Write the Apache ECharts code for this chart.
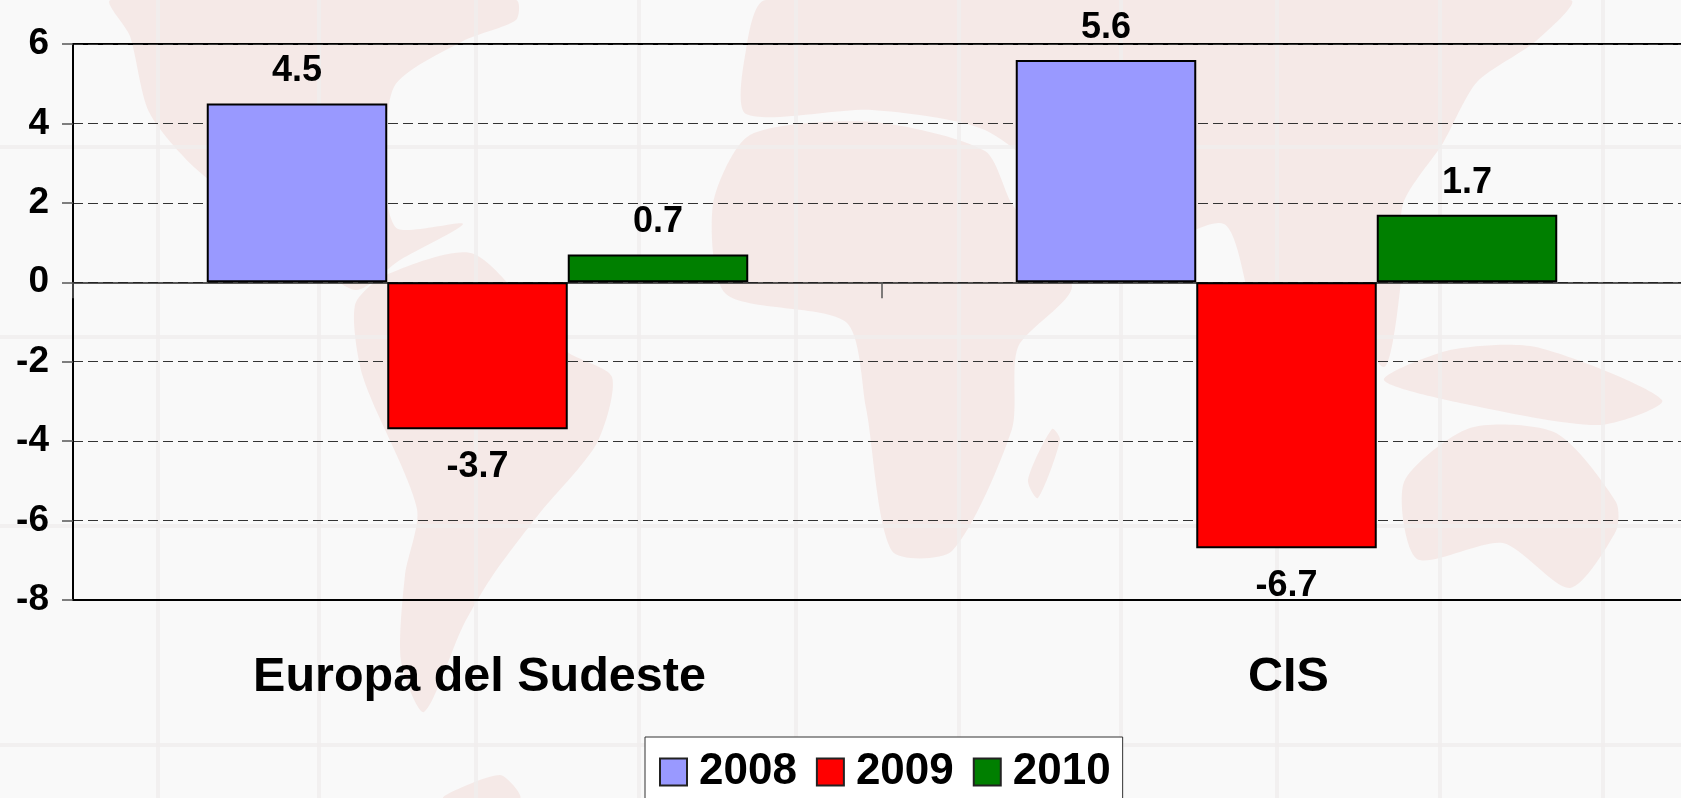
<!DOCTYPE html>
<html>
<head>
<meta charset="utf-8">
<style>
html, body { margin: 0; padding: 0; background: #f9f9f9; overflow: hidden; }
/* plot area runs past the right edge of the window, so the chart is wider than the page */
#chart { width: 1700px; height: 798px; }
</style>
<script src="https://cdn.jsdelivr.net/npm/echarts@6/dist/echarts.min.js"></script>
</head>
<body>
<div id="chart"></div>
<script>
var categories = ['Europa del Sudeste', 'CIS'];
var years = ['2008', '2009', '2010'];
var values2008 = [4.5, 5.6];
var values2009 = [-3.7, -6.7];
var values2010 = [0.7, 1.7];
var colors = ['#9999ff', '#ff0000', '#007f00'];

// faint world map behind the chart, only decoration
var landAreas = [
    [[111, 0], [516, 0], [516, 20], [463, 41], [394, 87], [386, 193], [398, 229], [463, 224], [400, 260], [355, 290], [294, 244], [195, 168], [149, 112], [130, 36]],
    [[386, 275], [474, 254], [566, 351], [612, 377], [597, 443], [539, 514], [493, 575], [463, 626], [424, 712], [401, 661], [405, 575], [417, 509], [363, 377], [355, 305]],
    [[750, 135], [872, 122], [985, 151], [1012, 204], [1072, 286], [1018, 347], [1012, 429], [952, 551], [892, 551], [866, 408], [846, 322], [726, 294], [713, 204]],
    [[766, 0], [1570, 0], [1536, 41], [1477, 82], [1443, 143], [1403, 204], [1400, 290], [1384, 367], [1340, 300], [1297, 282], [1260, 330], [1224, 224], [1120, 260], [1072, 200], [985, 130], [872, 110], [746, 114], [746, 50]],
    [[1384, 380], [1450, 350], [1536, 347], [1662, 400], [1600, 425], [1470, 405]],
    [[1404, 482], [1470, 428], [1556, 433], [1616, 502], [1616, 531], [1570, 588], [1503, 543], [1417, 559]],
    [[1052, 429], [1060, 440], [1038, 498], [1028, 480]],
    [[443, 798], [500, 775], [520, 798]]
];
var mapLinesX = [158, 319, 476, 639, 796, 959, 1121, 1277, 1440, 1603];
var mapLinesY = [147, 337, 526, 745];

var background = [];
landAreas.forEach(function (points) {
    background.push({
        type: 'polygon',
        z: -10,
        silent: true,
        shape: { points: points, smooth: 0.25 },
        style: { fill: '#f5e9e7' }
    });
});
mapLinesX.forEach(function (x) {
    background.push({
        type: 'line', z: -9, silent: true,
        shape: { x1: x, y1: 0, x2: x, y2: 798 },
        style: { stroke: '#f0eded', lineWidth: 4, opacity: 0.8 }
    });
});
mapLinesY.forEach(function (y) {
    background.push({
        type: 'line', z: -9, silent: true,
        shape: { x1: 0, y1: y, x2: 1700, y2: y },
        style: { stroke: '#f0eded', lineWidth: 4, opacity: 0.8 }
    });
});

function makeSeries(name, data, color) {
    return {
        name: name,
        type: 'bar',
        xAxisIndex: 0,
        data: data,
        barWidth: 180.5,
        barGap: 0,
        itemStyle: {
            color: color,
            borderColor: '#000',
            borderWidth: 2
        },
        label: {
            show: true,
            position: 'outside',
            distance: 17,
            offset: [0, 3],
            color: '#000',
            fontFamily: 'Liberation Sans',
            fontWeight: 'bold',
            fontSize: 36,
            formatter: function (p) {
                return p.value.toFixed(1);
            }
        }
    };
}

var myChart = echarts.init(document.getElementById('chart'), null, { renderer: 'canvas' });

var option = {
    animation: false,
    backgroundColor: 'transparent',
    graphic: background,
    grid: {
        show: true,
        left: 73,
        top: 44,
        width: 1618,
        height: 556,
        borderColor: '#000',
        borderWidth: 2,
        backgroundColor: 'transparent',
        containLabel: false
    },
    legend: {
        left: 645,
        top: 737,
        padding: [13, 12, 40, 14],
        itemWidth: 27,
        itemHeight: 27,
        itemGap: 19,
        backgroundColor: '#fff',
        borderColor: '#333',
        borderWidth: 1,
        icon: 'rect',
        data: years,
        textStyle: {
            color: '#000',
            fontFamily: 'Liberation Sans',
            fontWeight: 'bold',
            fontSize: 44,
            padding: [4, 0, 0, 7]
        },
        itemStyle: {
            borderColor: '#222',
            borderWidth: 2
        }
    },
    xAxis: [
        {
            type: 'category',
            data: categories,
            position: 'bottom',
            axisLine: { onZero: false, lineStyle: { color: '#000', width: 2 } },
            axisTick: { show: false },
            splitLine: { show: false },
            axisLabel: {
                color: '#000',
                margin: 53,
                padding: [0, 0, 0, 4],
                fontFamily: 'Liberation Sans',
                fontWeight: 'bold',
                fontSize: 48.5
            }
        },
        {
            // the line at zero with its middle tick
            type: 'category',
            data: categories,
            position: 'bottom',
            axisLine: { onZero: true, lineStyle: { color: '#222', width: 1.5 } },
            axisTick: { show: true, length: 16, lineStyle: { color: '#555', width: 1.5 } },
            axisLabel: { show: false },
            splitLine: { show: false }
        }
    ],
    yAxis: {
        type: 'value',
        min: -8,
        max: 6,
        interval: 2,
        axisLine: { show: true, onZero: false, lineStyle: { color: '#000', width: 2 } },
        axisTick: { show: true, length: 11, lineStyle: { color: '#555', width: 1.5 } },
        axisLabel: {
            color: '#000',
            margin: 24,
            fontFamily: 'Liberation Sans',
            fontWeight: 'bold',
            fontSize: 37
        },
        splitLine: {
            show: true,
            lineStyle: { color: '#333', width: 1, type: [10, 5] }
        }
    },
    series: [
        makeSeries(years[0], values2008, colors[0]),
        makeSeries(years[1], values2009, colors[1]),
        makeSeries(years[2], values2010, colors[2])
    ]
};

myChart.setOption(option);
</script>
</body>
</html>
